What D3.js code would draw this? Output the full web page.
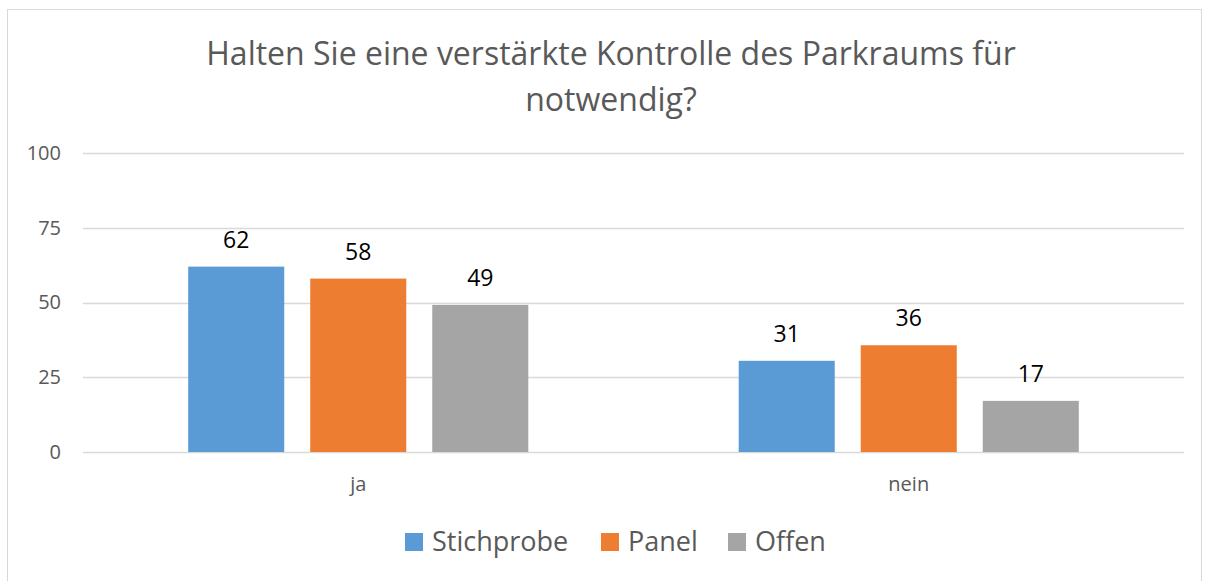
<!DOCTYPE html>
<html lang="de">
<head>
    <meta charset="UTF-8">
    <title>Kontrolle des Parkraums</title>
    <script src="https://d3js.org/d3.v7.min.js"></script>
    <style>
        body { margin: 0; background: #fff; font-family: "Open Sans", Arial, sans-serif; }
        svg { display: block; }
    </style>
</head>
<body>
    <div id="chart"></div>
    <script>
        // data
        const categories = ["ja", "nein"];
        const seriesNames = ["Stichprobe", "Panel", "Offen"];
        const stichprobe = [62.0, 30.5];
        const panel = [58.0, 35.7];
        const offen = [49.2, 17.1];
        const yTicks = [0, 25, 50, 75, 100];
        const titleLines = ["Halten Sie eine verstärkte Kontrolle des Parkraums für", "notwendig?"];

        const colors = ["#5b9bd5", "#ed7d31", "#a5a5a5"];
        const seriesValues = [stichprobe, panel, offen];

        const width = 1209, height = 581;
        const svg = d3.select("#chart").append("svg")
            .attr("width", width)
            .attr("height", height);

        // outer chart border
        svg.append("rect")
            .attr("x", 7.5).attr("y", 9.5)
            .attr("width", 1194).attr("height", 580)
            .attr("fill", "#fff")
            .attr("stroke", "#d9d9d9");

        // title
        svg.append("g").selectAll("text")
            .data(titleLines)
            .enter().append("text")
            .attr("x", 611)
            .attr("y", (d, i) => 65 + i * 46)
            .attr("text-anchor", "middle")
            .attr("fill", "#595959")
            .style("font-size", "32px")
            .text(d => d);

        const x0 = d3.scaleBand().domain(categories).range([83, 1184]);
        const x1 = d3.scaleBand().domain(seriesNames)
            .range([0, x0.bandwidth()])
            .paddingInner(0.213)
            .paddingOuter(0.862);
        const y = d3.scaleLinear().domain([0, 100]).range([452, 153]);

        // gridlines
        svg.append("g").selectAll("line")
            .data(yTicks)
            .enter().append("line")
            .attr("x1", 83).attr("x2", 1184)
            .attr("y1", d => Math.round(y(d)) + 0.5)
            .attr("y2", d => Math.round(y(d)) + 0.5)
            .attr("stroke", "#d9d9d9")
            .attr("stroke-width", 1.5);

        // y axis labels
        const yAxis = d3.axisLeft(y).tickValues(yTicks).tickSize(0).tickPadding(0);
        const yg = svg.append("g")
            .attr("transform", "translate(61,0)")
            .call(yAxis);
        yg.select(".domain").remove();
        yg.selectAll("text")
            .attr("fill", "#595959")
            .style("font-size", "20px")
            .style("font-family", "'Open Sans', Arial, sans-serif");

        // x axis labels
        const xAxis = d3.axisBottom(x0).tickSize(0).tickPadding(0);
        const xg = svg.append("g")
            .attr("transform", "translate(0,477)")
            .call(xAxis);
        xg.select(".domain").remove();
        xg.selectAll("text")
            .attr("fill", "#595959")
            .style("font-size", "20px")
            .style("font-family", "'Open Sans', Arial, sans-serif");

        // bars
        const rows = [];
        categories.forEach((c, ci) => {
            seriesNames.forEach((s, si) => {
                rows.push({ cat: c, series: s, value: seriesValues[si][ci], color: colors[si] });
            });
        });

        svg.append("g").selectAll("rect")
            .data(rows)
            .enter().append("rect")
            .attr("x", d => x0(d.cat) + x1(d.series))
            .attr("y", d => y(d.value))
            .attr("width", x1.bandwidth())
            .attr("height", d => y(0) - y(d.value))
            .attr("fill", d => d.color);

        // value labels
        svg.append("g").selectAll("text")
            .data(rows)
            .enter().append("text")
            .attr("x", d => x0(d.cat) + x1(d.series) + x1.bandwidth() / 2)
            .attr("y", d => y(d.value) - 19)
            .attr("text-anchor", "middle")
            .attr("fill", "#000")
            .style("font-size", "23px")
            .text(d => d3.format(".0f")(d.value));

        // legend
        const legendX = [405, 601, 728];
        const legend = svg.append("g").selectAll("g")
            .data(seriesNames)
            .enter().append("g")
            .attr("transform", (d, i) => `translate(${legendX[i]},533)`);
        legend.append("rect")
            .attr("width", 18).attr("height", 18)
            .attr("fill", (d, i) => colors[i]);
        legend.append("text")
            .attr("x", 27).attr("y", 18)
            .attr("fill", "#595959")
            .style("font-size", "27px")
            .text(d => d);
    </script>
</body>
</html>
